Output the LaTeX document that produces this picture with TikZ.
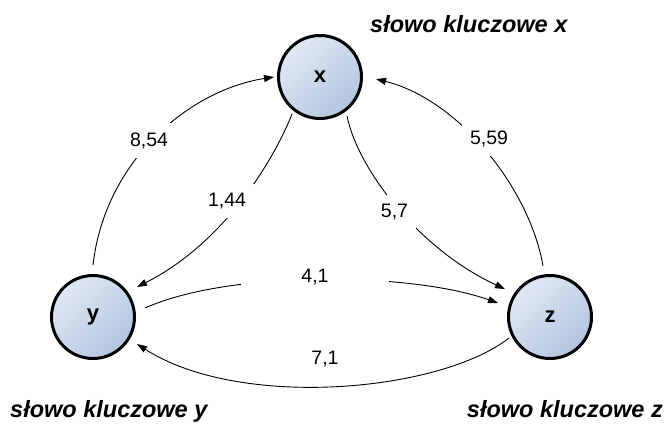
\documentclass[tikz,border=0pt]{standalone}
\usepackage{fontspec}
\setmainfont{Liberation Sans}
\usetikzlibrary{arrows.meta}
\definecolor{fillA}{HTML}{E0E8F4}
\definecolor{fillB}{HTML}{B3C5E0}
\tikzset{
  kw/.style={circle, draw=black, line width=3pt, minimum size=83pt, inner sep=0pt,
    top color=fillA, bottom color=fillB, shading angle=45,
    font=\fontsize{22}{24}\selectfont\bfseries},
  title/.style={font=\fontsize{23.5}{26}\selectfont\bfseries\itshape, inner sep=0pt},
  wlab/.style={font=\fontsize{19.5}{22}\selectfont, fill=white, inner xsep=8pt, inner ysep=9pt, anchor=base},
  conn/.style={line width=0.9pt, -{Triangle[length=10pt,width=7pt]}},
}
\begin{document}
\begin{tikzpicture}[x=1pt,y=-1pt]
\useasboundingbox (0,0) rectangle (666,424);
\node[kw] (x) at (320,77) {x};
\node[kw] (y) at (93,317) {y};
\node[kw] (z) at (550,317) {z};

\node[title, anchor=base west] (tx) at (370,32) {słowo kluczowe x};
\node[title, anchor=base west] (ty) at (10,417) {słowo kluczowe y};
\node[title, anchor=base east] (tz) at (663,417) {słowo kluczowe z};

% y -> x  (8,54)
\draw[conn] ([shift={(0,-52)}]y.center) .. controls (105,160) and (190,90) .. ([shift={(-46,0)}]x.center);
% x -> y  (1,44)
\draw[conn] ([shift={(-28,37)}]x.center) .. controls (278,150) and (230,240) .. ([shift={(44,-30)}]y.center);
% x -> z  (5,7)
\draw[conn] ([shift={(27,39)}]x.center) .. controls (358,170) and (420,250) .. ([shift={(-45,-28)}]z.center);
% z -> x  (5,59)
\draw[conn] ([shift={(-7,-51)}]z.center) .. controls (530,190) and (460,100) .. ([shift={(56,2)}]x.center);
% y -> z  (4,1)
\draw[conn] ([shift={(52,-9)}]y.center) .. controls (230,270) and (410,272) .. ([shift={(-52,-14)}]z.center);
% z -> y  (7,1)
\draw[conn] ([shift={(-41,21)}]z.center) .. controls (440,392) and (240,410) .. ([shift={(44,27)}]y.center);

\node[wlab] (l854) at (149,146) {8,54};
\node[wlab] (l144) at (227,206) {1,44};
\node[wlab] (l559) at (489,144) {5,59};
\node[wlab] (l57) at (394.5,217) {5,7};
\node[wlab, minimum width=148pt] (l41) at (315,282) {4,1};
\node[wlab] (l71) at (325,364) {7,1};
\end{tikzpicture}
\end{document}
